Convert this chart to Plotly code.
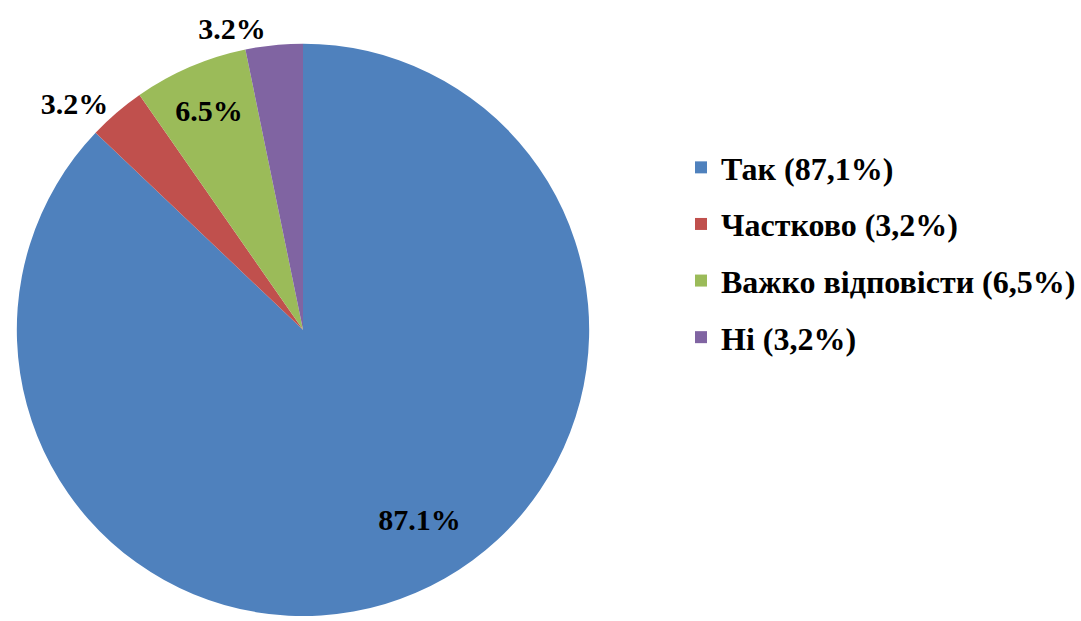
import plotly.graph_objects as go

# survey answers (respondent counts, 31 total)
categories = ["Так", "Частково", "Важко відповісти", "Ні"]
counts = [27, 1, 2, 1]
colors = ["#4F81BD", "#C0504D", "#9BBB59", "#8064A2"]
text_pos = ["inside", "outside", "inside", "outside"]

total = sum(counts)
legend_names = [
    f"{c} ({v / total * 100:.1f}%)".replace(".", ",") for c, v in zip(categories, counts)
]

FONT = "Liberation Serif, Times New Roman, serif"

# the big slice label sits further out in the original, nudge it with padding
nb = "&nbsp;"
templates = [(nb + "<br>") * 3 + nb * 16 + "%{percent:.1%}"] + ["%{percent:.1%}"] * 3

fig = go.Figure()

fig.add_trace(go.Pie(
    labels=categories,
    values=counts,
    sort=False,
    direction="clockwise",
    rotation=0,
    marker=dict(colors=colors, line=dict(width=0)),
    texttemplate=templates,
    textposition=text_pos,
    insidetextorientation="horizontal",
    textfont=dict(family=FONT, size=30, color="black", weight="bold"),
    domain=dict(x=[12 / 1081, 594 / 1081], y=[0, 1 - 44 / 621]),
    showlegend=False,
    hoverinfo="label+percent",
))

# legend entries, one group each so the spacing can be set
for name, col in zip(legend_names, colors):
    fig.add_trace(go.Scatter(
        x=[None], y=[None], mode="markers", name=name, legendgroup=name,
        marker=dict(symbol="square", size=12, color=col),
    ))

fig.update_layout(
    width=1081, height=621,
    margin=dict(l=0, r=0, t=0, b=0),
    paper_bgcolor="white", plot_bgcolor="white",
    xaxis=dict(visible=False), yaxis=dict(visible=False),
    showlegend=True,
    legend=dict(
        x=0.630, xanchor="left", y=0.59, yanchor="middle",
        font=dict(family=FONT, size=32, color="black", weight="bold"),
        tracegroupgap=12, itemsizing="constant",
        bgcolor="rgba(0,0,0,0)",
    ),
)

fig.write_html("out.html", config={"displayModeBar": False},
               post_script="document.body.style.margin='0';")
